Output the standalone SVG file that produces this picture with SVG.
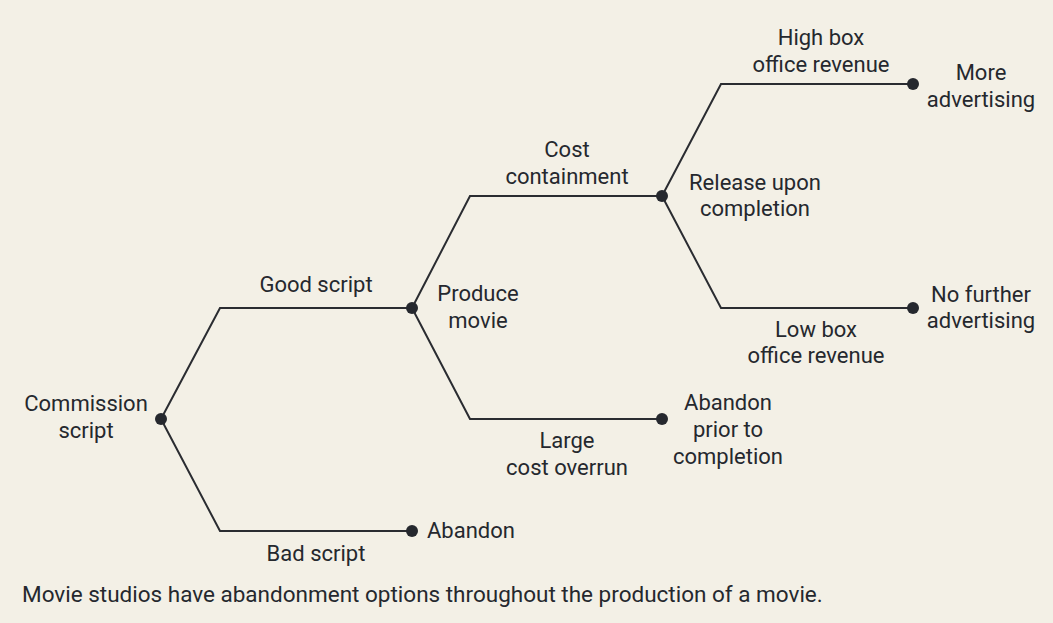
<svg xmlns="http://www.w3.org/2000/svg" width="1053" height="623" viewBox="0 0 1053 623">
<style>
.bg{fill:#f3f0e6}
.ln{fill:none;stroke:#2a2c31;stroke-width:2;stroke-linejoin:miter}
.dot{fill:#25282e}
text{font-family:Roboto,"Liberation Sans",sans-serif;font-size:22px;fill:#25282e}
.c{text-anchor:middle}
.cap{font-size:22.5px}
</style>
<rect class="bg" x="0" y="0" width="1053" height="623"/>
<g id="connectors">
<polyline class="ln" points="161,419 220,308 412,308"/>
<polyline class="ln" points="161,419 220,531 412,531"/>
<polyline class="ln" points="412,308 470,196 662,196"/>
<polyline class="ln" points="412,308 470,419 662,419"/>
<polyline class="ln" points="662,196 721,84 913,84"/>
<polyline class="ln" points="662,196 721,308 913,308"/>
</g>
<g id="commission">
<circle class="dot" cx="161" cy="419" r="6"/>
<text class="c" x="86" y="411">Commission</text>
<text class="c" x="86" y="438">script</text>
</g>
<g id="edge-good"><text class="c" x="316" y="292">Good script</text></g>
<g id="edge-bad"><text class="c" x="316" y="561">Bad script</text></g>
<g id="abandon1">
<circle class="dot" cx="412" cy="531" r="6"/>
<text x="427" y="538">Abandon</text>
</g>
<g id="produce">
<circle class="dot" cx="412" cy="308" r="6"/>
<text class="c" x="478" y="301">Produce</text>
<text class="c" x="478" y="328">movie</text>
</g>
<g id="edge-cost"><text class="c" x="567" y="157">Cost</text><text class="c" x="567" y="184">containment</text></g>
<g id="edge-large"><text class="c" x="567" y="448">Large</text><text class="c" x="567" y="475">cost overrun</text></g>
<g id="abandon2">
<circle class="dot" cx="662" cy="419" r="6"/>
<text class="c" x="728" y="410">Abandon</text>
<text class="c" x="728" y="437">prior to</text>
<text class="c" x="728" y="464">completion</text>
</g>
<g id="release">
<circle class="dot" cx="662" cy="196" r="6"/>
<text class="c" x="755" y="190">Release upon</text>
<text class="c" x="755" y="216">completion</text>
</g>
<g id="edge-high"><text class="c" x="821" y="45">High box</text><text class="c" x="821" y="72">office revenue</text></g>
<g id="edge-low"><text class="c" x="816" y="337">Low box</text><text class="c" x="816" y="363">office revenue</text></g>
<g id="more">
<circle class="dot" cx="913" cy="84" r="6"/>
<text class="c" x="981" y="80">More</text>
<text class="c" x="981" y="107">advertising</text>
</g>
<g id="nofurther">
<circle class="dot" cx="913" cy="308" r="6"/>
<text class="c" x="981" y="302">No further</text>
<text class="c" x="981" y="328">advertising</text>
</g>
<g id="caption"><text class="cap" x="22" y="602">Movie studios have abandonment options throughout the production of a movie.</text></g>
</svg>
